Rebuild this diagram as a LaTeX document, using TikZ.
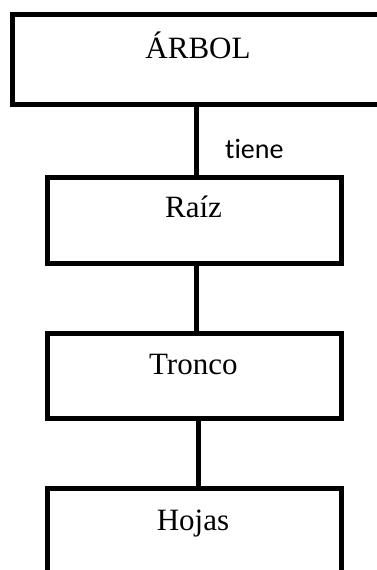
\documentclass[tikz,border=0pt]{standalone}
\usepackage{fontspec}
\setmainfont{Liberation Serif}
\newfontfamily\calibrifont[RawFeature=-liga]{Carlito}
\begin{document}
\begin{tikzpicture}[x=1pt,y=1pt,
  boxnode/.style={draw=black,line width=5pt,rectangle,inner sep=0pt,outer sep=0pt},
  lbl/.style={anchor=base,inner sep=0pt,font=\fontsize{31}{37}\selectfont},
  link/.style={draw=black,line width=5pt}]
\useasboundingbox (0,0) rectangle (377,-570);
\clip (0,0) rectangle (377,-570);
% boxes
\node[boxnode,minimum width=372pt,minimum height=89.8pt] (arbol) at (198,-59.6) {};
\node[boxnode,minimum width=294.5pt,minimum height=86pt] (raiz) at (194.25,-220) {};
\node[boxnode,minimum width=294.5pt,minimum height=85pt] (tronco) at (194.25,-375.5) {};
\node[boxnode,minimum width=294.5pt,minimum height=102pt] (hojas) at (194.25,-539) {};
% texts
\node[lbl] (tarbol) at (198,-58) {ÁRBOL};
\node[lbl] (traiz) at (193.5,-217) {Raíz};
\node[lbl] (ttronco) at (193.3,-374) {Tronco};
\node[lbl] (thojas) at (193,-530) {Hojas};
% connectors
\draw[link] ([xshift=-2pt]arbol.south) -- ([xshift=1.75pt]raiz.north);
\draw[link] ([xshift=1.75pt]raiz.south) -- ([xshift=1.75pt]tronco.north);
\draw[link] ([xshift=3.75pt]tronco.south) -- ([xshift=3.75pt]hojas.north);
\node[anchor=base west,inner sep=0pt,font=\calibrifont\fontsize{28}{34}\selectfont] (tiene) at (225,-158) {tiene};
\end{tikzpicture}
\end{document}
